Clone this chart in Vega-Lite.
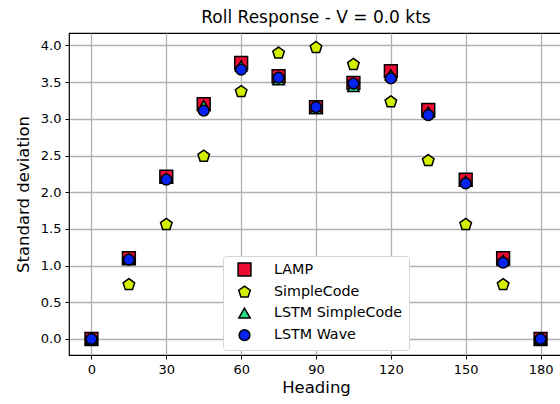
{
  "$schema": "https://vega.github.io/schema/vega-lite/v6.json",
  "width": 494,
  "height": 322,
  "autosize": "none",
  "padding": {"left": 69, "top": 33, "right": 0, "bottom": 49},
  "background": "white",
  "title": {"text": "Roll Response - V = 0.0 kts", "font": "DejaVu Sans", "fontSize": 17, "fontWeight": "normal", "color": "black", "offset": 6},
  "config": {
    "view": {"stroke": "black", "strokeWidth": 1.2},
    "axis": {"labelFont": "DejaVu Sans", "titleFont": "DejaVu Sans", "labelFontSize": 13, "titleFontSize": 16.5, "titleFontWeight": "normal", "labelColor": "black", "titleColor": "black", "gridColor": "#b0b0b0", "gridWidth": 1.3, "tickColor": "black", "tickSize": 4, "domainColor": "black", "domain": false}
  },
  "data": {"values": [
    {"heading": 0, "series": "LAMP", "value": 0},
    {"heading": 15, "series": "LAMP", "value": 1.10},
    {"heading": 30, "series": "LAMP", "value": 2.21},
    {"heading": 45, "series": "LAMP", "value": 3.20},
    {"heading": 60, "series": "LAMP", "value": 3.76},
    {"heading": 75, "series": "LAMP", "value": 3.58},
    {"heading": 90, "series": "LAMP", "value": 3.16},
    {"heading": 105, "series": "LAMP", "value": 3.49},
    {"heading": 120, "series": "LAMP", "value": 3.65},
    {"heading": 135, "series": "LAMP", "value": 3.12},
    {"heading": 150, "series": "LAMP", "value": 2.17},
    {"heading": 165, "series": "LAMP", "value": 1.10},
    {"heading": 180, "series": "LAMP", "value": 0},
    {"heading": 0, "series": "SimpleCode", "value": 0},
    {"heading": 15, "series": "SimpleCode", "value": 0.74},
    {"heading": 30, "series": "SimpleCode", "value": 1.56},
    {"heading": 45, "series": "SimpleCode", "value": 2.49},
    {"heading": 60, "series": "SimpleCode", "value": 3.37},
    {"heading": 75, "series": "SimpleCode", "value": 3.895},
    {"heading": 90, "series": "SimpleCode", "value": 3.97},
    {"heading": 105, "series": "SimpleCode", "value": 3.74},
    {"heading": 120, "series": "SimpleCode", "value": 3.23},
    {"heading": 135, "series": "SimpleCode", "value": 2.43},
    {"heading": 150, "series": "SimpleCode", "value": 1.56},
    {"heading": 165, "series": "SimpleCode", "value": 0.74},
    {"heading": 180, "series": "SimpleCode", "value": 0},
    {"heading": 0, "series": "LSTM SimpleCode", "value": 0},
    {"heading": 15, "series": "LSTM SimpleCode", "value": 1.09},
    {"heading": 30, "series": "LSTM SimpleCode", "value": 2.19},
    {"heading": 45, "series": "LSTM SimpleCode", "value": 3.18},
    {"heading": 60, "series": "LSTM SimpleCode", "value": 3.72},
    {"heading": 75, "series": "LSTM SimpleCode", "value": 3.53},
    {"heading": 90, "series": "LSTM SimpleCode", "value": 3.14},
    {"heading": 105, "series": "LSTM SimpleCode", "value": 3.44},
    {"heading": 120, "series": "LSTM SimpleCode", "value": 3.60},
    {"heading": 135, "series": "LSTM SimpleCode", "value": 3.09},
    {"heading": 150, "series": "LSTM SimpleCode", "value": 2.15},
    {"heading": 165, "series": "LSTM SimpleCode", "value": 1.07},
    {"heading": 180, "series": "LSTM SimpleCode", "value": 0},
    {"heading": 0, "series": "LSTM Wave", "value": 0},
    {"heading": 15, "series": "LSTM Wave", "value": 1.08},
    {"heading": 30, "series": "LSTM Wave", "value": 2.17},
    {"heading": 45, "series": "LSTM Wave", "value": 3.11},
    {"heading": 60, "series": "LSTM Wave", "value": 3.67},
    {"heading": 75, "series": "LSTM Wave", "value": 3.56},
    {"heading": 90, "series": "LSTM Wave", "value": 3.16},
    {"heading": 105, "series": "LSTM Wave", "value": 3.48},
    {"heading": 120, "series": "LSTM Wave", "value": 3.55},
    {"heading": 135, "series": "LSTM Wave", "value": 3.05},
    {"heading": 150, "series": "LSTM Wave", "value": 2.12},
    {"heading": 165, "series": "LSTM Wave", "value": 1.04},
    {"heading": 180, "series": "LSTM Wave", "value": 0}
  ]},
  "mark": {"type": "point", "filled": true, "opacity": 1, "stroke": "black", "strokeWidth": 1.5},
  "encoding": {
    "x": {"field": "heading", "type": "quantitative", "title": "Heading", "scale": {"domain": [-9, 189], "nice": false, "zero": false},
      "axis": {"values": [0, 30, 60, 90, 120, 150, 180], "titlePadding": 3, "labelPadding": 4}},
    "y": {"field": "value", "type": "quantitative", "title": "Standard deviation", "scale": {"domain": [-0.218, 4.169], "nice": false, "zero": false},
      "axis": {"values": [0, 0.5, 1, 1.5, 2, 2.5, 3, 3.5, 4], "format": ".1f", "titlePadding": 9, "labelPadding": 4}},
    "color": {"field": "series", "type": "nominal", "sort": ["LAMP", "SimpleCode", "LSTM SimpleCode", "LSTM Wave"],
      "scale": {"domain": ["LAMP", "SimpleCode", "LSTM SimpleCode", "LSTM Wave"], "range": ["#ee0b33", "#d2f000", "#22e08a", "#0522ee"]},
      "legend": {"title": null, "orient": "none", "legendX": 154, "legendY": 223, "fillColor": "white", "strokeColor": "#d6d6d6", "padding": 6, "cornerRadius": 3, "labelFont": "DejaVu Sans", "labelFontSize": 14.3, "labelColor": "black", "rowPadding": 4, "symbolOffset": 8, "symbolStrokeColor": "black", "symbolStrokeWidth": 1.5, "symbolOpacity": 1, "labelOffset": 22, "offset": 0}},
    "shape": {"field": "series", "type": "nominal", "sort": ["LAMP", "SimpleCode", "LSTM SimpleCode", "LSTM Wave"],
      "scale": {"domain": ["LAMP", "SimpleCode", "LSTM SimpleCode", "LSTM Wave"], "range": ["square", "M0,-1L0.951,-0.309L0.588,0.809L-0.588,0.809L-0.951,-0.309Z", "triangle-up", "circle"]}},
    "size": {"field": "series", "type": "nominal", "sort": ["LAMP", "SimpleCode", "LSTM SimpleCode", "LSTM Wave"],
      "scale": {"domain": ["LAMP", "SimpleCode", "LSTM SimpleCode", "LSTM Wave"], "range": [165, 115, 100, 80]}}
  }
}
